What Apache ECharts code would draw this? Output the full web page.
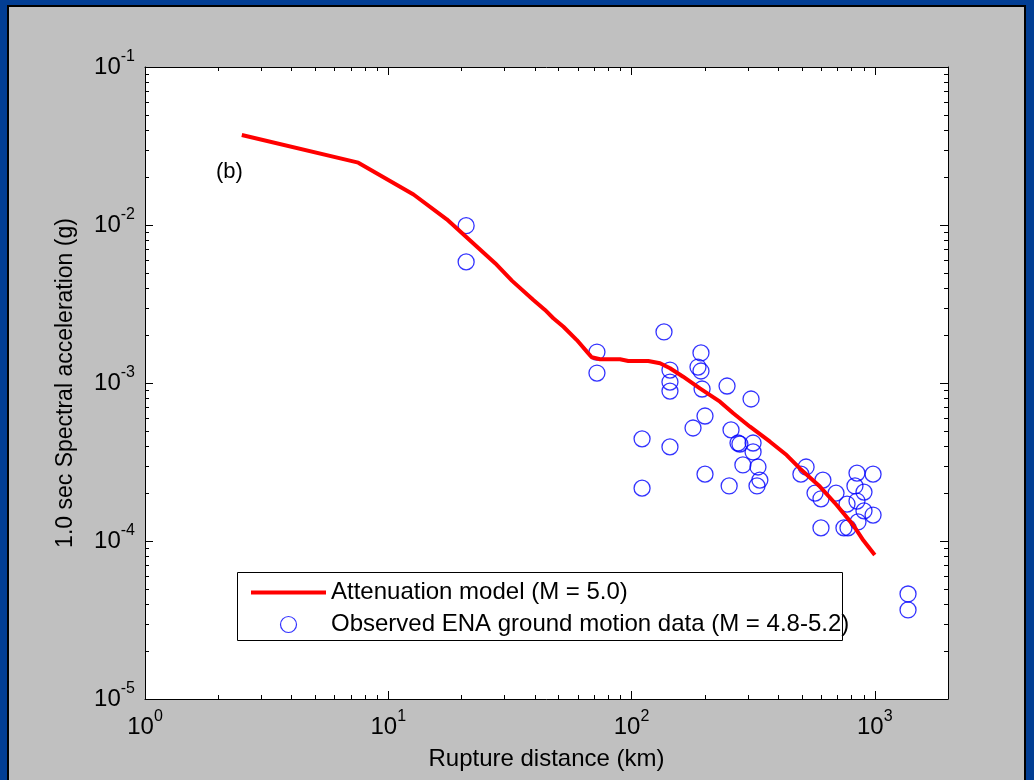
<!DOCTYPE html>
<html><head><meta charset="utf-8">
<script src="https://cdn.jsdelivr.net/npm/echarts@6/dist/echarts.min.js"></script>
<style>
html,body{margin:0;padding:0;width:1034px;height:780px;overflow:hidden;background:#023e94;}
#frame{position:absolute;left:7px;top:5px;width:1015px;height:777px;background:#c0c0c0;border:2px solid #000;border-bottom:none;}
#chart{position:absolute;left:0;top:0;width:1034px;height:780px;}
</style></head><body>
<div id="frame"></div><div id="chart"></div>
<script>
// Attenuation model (M = 5.0)
const modelDistance = [2.5, 7.53, 12.7, 17.4, 27.5, 32.3, 39.5, 44.1, 47.7, 52.5, 59.6, 65.5, 68.6, 74.3, 89.7, 97.0, 117.2, 131, 144, 163, 191, 231, 262, 307, 371, 434, 492, 595, 697, 816, 897, 1000];
const modelSA = [0.0371, 0.0248, 0.0156, 0.01087, 0.00573, 0.00443, 0.00335, 0.00290, 0.00257, 0.00227, 0.00187, 0.00158, 0.001455, 0.001413, 0.001413, 0.001378, 0.001378, 0.001333, 0.00124, 0.001096, 0.000925, 0.000762, 0.000643, 0.000529, 0.000425, 0.00035, 0.000288, 0.000221, 0.000169, 0.000126, 0.000101, 0.0000815];
// Observed ENA ground motion data (M = 4.8-5.2)
const obsDistance = [20.9, 20.9, 72.1, 72.1, 136, 143.9, 143.9, 143.9, 110.5, 143.9, 110.5, 193, 187.6, 193, 195, 247, 310, 200.5, 179, 256.5, 279, 274, 316, 316, 287, 331, 200.5, 252, 337, 328, 522, 497, 612, 568, 601, 693, 769, 845, 984, 829, 903, 845, 903, 984, 853, 601, 747, 776, 1370, 1370];
const obsSA = [0.0099, 0.00584, 0.00157, 0.001156, 0.002104, 0.001208, 0.001014, 0.000889, 0.000443, 0.000394, 0.000216, 0.001549, 0.001262, 0.001191, 0.000916, 0.000957, 0.000792, 0.000618, 0.000519, 0.000505, 0.000411, 0.000417, 0.000417, 0.000366, 0.000303, 0.000294, 0.000265, 0.000223, 0.000243, 0.000223, 0.000294, 0.000265, 0.000243, 0.000201, 0.000185, 0.000201, 0.0001714, 0.000269, 0.000265, 0.000223, 0.000204, 0.000179, 0.000155, 0.000146, 0.000132, 0.000121, 0.000121, 0.000121, 0.0000462, 0.0000366];
// tick labels (powers of ten)
const xTickExponents = [0, 1, 2, 3];
const yTickExponents = [-5, -4, -3, -2, -1];
const xMinorTicks = [2,3,4,5,6,7,8,9,20,30,40,50,60,70,80,90,200,300,400,500,600,700,800,900];
const yMinorTicks = [2e-5,3e-5,4e-5,5e-5,6e-5,7e-5,8e-5,9e-5,2e-4,3e-4,4e-4,5e-4,6e-4,7e-4,8e-4,9e-4,2e-3,3e-3,4e-3,5e-3,6e-3,7e-3,8e-3,9e-3,2e-2,3e-2,4e-2,5e-2,6e-2,7e-2,8e-2,9e-2];

const FONT = '"Liberation Sans", Arial, Helvetica, sans-serif';
const chart = echarts.init(document.getElementById('chart'), null, {renderer: 'canvas'});

function powLabel(exps) {
  return function (v) {
    const l = Math.log10(v);
    const e = Math.round(l);
    if (Math.abs(l - e) > 1e-6 || exps.indexOf(e) < 0) return '';
    return '{b|10}{e|' + e + '}';
  };
}
const richTick = {
  b: {fontSize: 24, fontFamily: FONT, color: '#000', lineHeight: 36},
  e: {fontSize: 16, fontFamily: FONT, color: '#000', lineHeight: 16, verticalAlign: 'top'}
};
const axisLineStyle = {lineStyle: {color: '#000', width: 1}};

function minorX(params, api) {
  const x = Math.round(api.coord([api.value(0), 1e-3])[0]) + 0.5;
  const cs = params.coordSys;
  return {type: 'group', children: [
    {type: 'line', shape: {x1: x, y1: cs.y + cs.height, x2: x, y2: cs.y + cs.height - 4}, style: {stroke: '#000', lineWidth: 1}},
    {type: 'line', shape: {x1: x, y1: cs.y, x2: x, y2: cs.y + 4}, style: {stroke: '#000', lineWidth: 1}}
  ]};
}
function minorY(params, api) {
  const y = Math.round(api.coord([10, api.value(1)])[1]) + 0.5;
  const cs = params.coordSys;
  return {type: 'group', children: [
    {type: 'line', shape: {x1: cs.x, y1: y, x2: cs.x + 4, y2: y}, style: {stroke: '#000', lineWidth: 1}},
    {type: 'line', shape: {x1: cs.x + cs.width, y1: y, x2: cs.x + cs.width - 4, y2: y}, style: {stroke: '#000', lineWidth: 1}}
  ]};
}

const modelName = 'Attenuation model (M = 5.0)';
const obsName = 'Observed ENA ground motion data (M = 4.8-5.2)';

chart.setOption({
  animation: false,
  backgroundColor: 'transparent',
  grid: {left: 145, top: 67, right: 86, bottom: 81, show: true, backgroundColor: '#fff', borderWidth: 0},
  xAxis: [{
    type: 'log', logBase: 10, min: 1, max: 2000, position: 'bottom',
    name: 'Rupture distance (km)', nameLocation: 'middle', nameGap: 48,
    nameTextStyle: {fontSize: 24, fontFamily: FONT, color: '#000'},
    axisLine: axisLineStyle,
    axisTick: {inside: true, length: 8, lineStyle: {color: '#000'}},
    axisLabel: {formatter: powLabel(xTickExponents), rich: richTick, margin: 10, color: '#000'},
    splitLine: {show: false}
  }, {
    type: 'log', logBase: 10, min: 1, max: 2000, position: 'top',
    axisLine: axisLineStyle,
    axisTick: {inside: true, length: 8, lineStyle: {color: '#000'}},
    axisLabel: {show: false}, splitLine: {show: false}
  }],
  yAxis: [{
    type: 'log', logBase: 10, min: 1e-5, max: 0.1, position: 'left',
    name: '1.0 sec Spectral acceleration (g)', nameLocation: 'middle', nameGap: 68,
    nameTextStyle: {fontSize: 23, fontFamily: FONT, color: '#000'},
    axisLine: axisLineStyle,
    axisTick: {inside: true, length: 8, lineStyle: {color: '#000'}},
    axisLabel: {formatter: powLabel(yTickExponents), rich: richTick, margin: 10, color: '#000'},
    splitLine: {show: false}
  }, {
    type: 'log', logBase: 10, min: 1e-5, max: 0.1, position: 'right',
    axisLine: axisLineStyle,
    axisTick: {inside: true, length: 8, lineStyle: {color: '#000'}},
    axisLabel: {show: false}, splitLine: {show: false}
  }],
  legend: {
    orient: 'vertical', left: 249, top: 580, padding: 0,
    itemWidth: 75, itemHeight: 16, itemGap: 7, itemTextGap: 9,
    selectedMode: false, z: 5,
    textStyle: {fontSize: 24, fontFamily: FONT, color: '#000', lineHeight: 25},
    data: [
      {name: modelName, itemStyle: {opacity: 0}, lineStyle: {color: '#ff0000', width: 4}},
      {name: obsName, icon: 'circle', itemStyle: {color: 'transparent', borderColor: '#0000ff', borderWidth: 1.2}}
    ]
  },
  graphic: [
    {type: 'rect', z: 3, shape: {x: 237.5, y: 572.5, width: 605, height: 68}, style: {fill: '#fff', stroke: '#000', lineWidth: 1}},
    {type: 'text', z: 3, x: 216, y: 172, style: {text: '(b)', fontSize: 22, fontFamily: FONT, fill: '#000', verticalAlign: 'middle'}}
  ],
  series: [
    {
      type: 'custom', silent: true, xAxisIndex: 0, yAxisIndex: 0, clip: false, z: 3,
      renderItem: minorX, data: xMinorTicks.map(v => [v, 1e-3])
    },
    {
      type: 'custom', silent: true, xAxisIndex: 0, yAxisIndex: 0, clip: false, z: 3,
      renderItem: minorY, data: yMinorTicks.map(v => [10, v])
    },
    {
      name: modelName, type: 'line', xAxisIndex: 0, yAxisIndex: 0,
      symbol: 'none', smooth: false,
      lineStyle: {color: '#ff0000', width: 4}, itemStyle: {color: '#ff0000'},
      emphasis: {disabled: true},
      data: modelDistance.map((d, i) => [d, modelSA[i]])
    },
    {
      name: obsName, type: 'scatter', xAxisIndex: 0, yAxisIndex: 0,
      symbol: 'circle', symbolSize: 16,
      itemStyle: {color: 'transparent', borderColor: '#0000ff', borderWidth: 1.3},
      emphasis: {disabled: true},
      data: obsDistance.map((d, i) => [d, obsSA[i]])
    }
  ]
});
</script>
</body></html>
